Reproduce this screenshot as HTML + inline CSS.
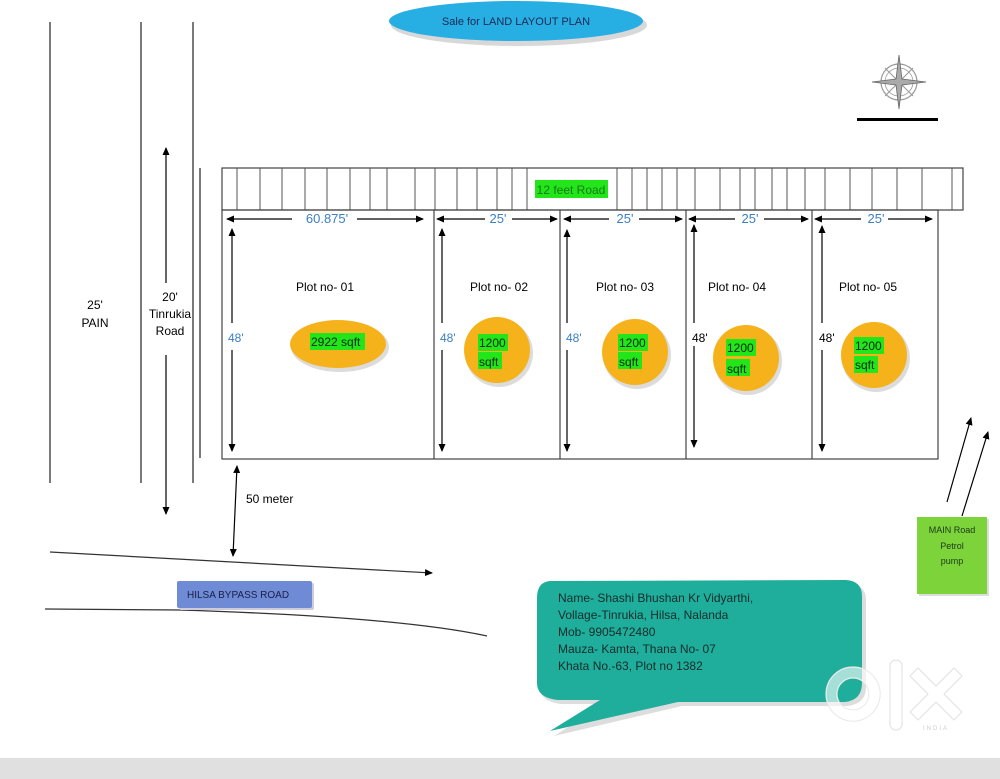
<!DOCTYPE html>
<html><head><meta charset="utf-8"><style>
html,body{margin:0;padding:0;background:#fff;}
svg{display:block;font-family:"Liberation Sans",sans-serif;}
</style></head><body>
<svg width="1000" height="779" viewBox="0 0 1000 779" xmlns="http://www.w3.org/2000/svg">
<defs>
<marker id="ah" markerWidth="8" markerHeight="8" refX="7" refY="4" orient="auto-start-reverse" markerUnits="userSpaceOnUse">
<path d="M0,0.5 L8,4 L0,7.5 z" fill="#000"/></marker>
</defs>
<rect width="1000" height="779" fill="#fff"/>
<!-- title -->
<ellipse cx="519" cy="25" rx="128" ry="21" fill="#d8d8d8"/>
<ellipse cx="516" cy="21" rx="127" ry="20" fill="#27aee3"/>
<text x="516" y="25" font-size="11" text-anchor="middle" fill="#1a2a55">Sale for  LAND LAYOUT PLAN</text>
<!-- compass -->
<g transform="translate(899,82)" stroke="#999" fill="none">
<circle r="18" stroke-width="1.2"/><circle r="14" stroke-width="0.8"/>
<path d="M-14,-14 L14,14 M14,-14 L-14,14" stroke-width="1"/>
<path d="M0,-27 L3,-3 L27,0 L3,3 L0,27 L-3,3 L-27,0 L-3,-3 Z" fill="#aaa" stroke="#666" stroke-width="0.8"/>
</g>
<rect x="857" y="118" width="81" height="3" fill="#000"/>
<!-- left vertical lines -->
<g stroke="#333" stroke-width="1.3">
<line x1="50" y1="22" x2="50" y2="483"/>
<line x1="141" y1="22" x2="141" y2="483"/>
<line x1="193" y1="22" x2="193" y2="483"/>
<line x1="200" y1="168" x2="200" y2="458"/>
</g>
<line x1="166" y1="283" x2="166" y2="148" stroke="#000" stroke-width="1.2" marker-end="url(#ah)"/>
<line x1="166" y1="355" x2="166" y2="514" stroke="#000" stroke-width="1.2" marker-end="url(#ah)"/>
<text x="95" y="309" font-size="12" text-anchor="middle">25'</text>
<text x="95" y="327" font-size="12" text-anchor="middle">PAIN</text>
<text x="170" y="301" font-size="12" text-anchor="middle">20'</text>
<text x="170" y="318" font-size="12" text-anchor="middle">Tinrukia</text>
<text x="170" y="335" font-size="12" text-anchor="middle">Road</text>
<!-- road strip -->
<rect x="222" y="168" width="741" height="42" fill="none" stroke="#444" stroke-width="1.2"/>
<g stroke="#555" stroke-width="1">
<path d="M237,168V210M260,168V210M282,168V210M305,168V210M327,168V210M350,168V210M370,168V210M387,168V210M415,168V210M435,168V210M457,168V210M477,168V210M497,168V210M512,168V210M527,168V210M617,168V210M632,168V210M647,168V210M662,168V210M677,168V210M695,168V210M720,168V210M740,168V210M755,168V210M772,168V210M787,168V210M805,168V210M825,168V210M850,168V210M872,168V210M897,168V210M922,168V210M952,168V210"/>
</g>
<rect x="535" y="180" width="73" height="18" fill="#22e51a"/>
<text x="571" y="194" font-size="12" text-anchor="middle" fill="#1a7a1a">12 feet Road</text>
<!-- plots -->
<rect x="222" y="210" width="716" height="249" fill="none" stroke="#444" stroke-width="1.2"/>
<g stroke="#444" stroke-width="1.2">
<line x1="434" y1="210" x2="434" y2="459"/>
<line x1="560" y1="210" x2="560" y2="459"/>
<line x1="686" y1="210" x2="686" y2="459"/>
<line x1="812" y1="210" x2="812" y2="459"/>
</g>
<!-- horizontal dims -->
<g stroke="#000" stroke-width="1.2">
<line x1="292" y1="219" x2="227" y2="219" marker-end="url(#ah)"/>
<line x1="357" y1="219" x2="423" y2="219" marker-end="url(#ah)"/>
<line x1="485" y1="219" x2="437" y2="219" marker-end="url(#ah)"/>
<line x1="512" y1="219" x2="557" y2="219" marker-end="url(#ah)"/>
<line x1="609" y1="219" x2="564" y2="219" marker-end="url(#ah)"/>
<line x1="639" y1="219" x2="682" y2="219" marker-end="url(#ah)"/>
<line x1="735" y1="219" x2="689" y2="219" marker-end="url(#ah)"/>
<line x1="764" y1="219" x2="808" y2="219" marker-end="url(#ah)"/>
<line x1="861" y1="219" x2="815" y2="219" marker-end="url(#ah)"/>
<line x1="888" y1="219" x2="932" y2="219" marker-end="url(#ah)"/>
</g>
<g font-size="13" fill="#3b7fc4" text-anchor="middle">
<text x="327" y="223">60.875'</text>
<text x="498" y="223">25'</text>
<text x="625" y="223">25'</text>
<text x="750" y="223">25'</text>
<text x="876" y="223">25'</text>
</g>
<!-- vertical dims -->
<g stroke="#000" stroke-width="1.2">
<line x1="232" y1="323" x2="232" y2="229" marker-end="url(#ah)"/>
<line x1="232" y1="350" x2="232" y2="451" marker-end="url(#ah)"/>
<line x1="442" y1="323" x2="442" y2="229" marker-end="url(#ah)"/>
<line x1="442" y1="350" x2="442" y2="451" marker-end="url(#ah)"/>
<line x1="567" y1="323" x2="567" y2="230" marker-end="url(#ah)"/>
<line x1="567" y1="350" x2="567" y2="451" marker-end="url(#ah)"/>
<line x1="694" y1="323" x2="694" y2="225" marker-end="url(#ah)"/>
<line x1="694" y1="346" x2="694" y2="447" marker-end="url(#ah)"/>
<line x1="822" y1="323" x2="822" y2="226" marker-end="url(#ah)"/>
<line x1="822" y1="350" x2="822" y2="451" marker-end="url(#ah)"/>
</g>
<g font-size="12">
<text x="228" y="342" fill="#3b7fc4">48'</text>
<text x="440" y="342" fill="#3b7fc4">48'</text>
<text x="566" y="342" fill="#3b7fc4">48'</text>
<text x="692" y="342" fill="#000">48'</text>
<text x="819" y="342" fill="#000">48'</text>
</g>
<g font-size="12" text-anchor="middle">
<text x="325" y="291">Plot no- 01</text>
<text x="499" y="291">Plot no- 02</text>
<text x="625" y="291">Plot no- 03</text>
<text x="737" y="291">Plot no- 04</text>
<text x="868" y="291">Plot no- 05</text>
</g>
<!-- ovals -->
<g fill="#dcdcdc">
<ellipse cx="340" cy="347" rx="49" ry="25"/>
<circle cx="499" cy="353" r="34"/>
<circle cx="637" cy="355" r="34"/>
<circle cx="748" cy="361" r="34"/>
<circle cx="876" cy="358" r="34"/>
</g>
<g fill="#f5b21a">
<ellipse cx="338" cy="344" rx="48" ry="24"/>
<circle cx="497" cy="350" r="33"/>
<circle cx="635" cy="352" r="33"/>
<circle cx="746" cy="358" r="33"/>
<circle cx="874" cy="355" r="33"/>
</g>
<g fill="#22e51a">
<rect x="310" y="333" width="55" height="17"/>
<rect x="478" y="334" width="30" height="17"/><rect x="478" y="352" width="24" height="17"/>
<rect x="618" y="334" width="30" height="17"/><rect x="618" y="352" width="24" height="17"/>
<rect x="726" y="339" width="30" height="17"/><rect x="726" y="359" width="24" height="17"/>
<rect x="854" y="337" width="30" height="17"/><rect x="854" y="356" width="24" height="17"/>
</g>
<g font-size="12" fill="#0a2a0a">
<text x="311" y="346">2922 sqft</text>
<text x="479" y="347">1200</text><text x="479" y="366">sqft</text>
<text x="619" y="347">1200</text><text x="619" y="366">sqft</text>
<text x="727" y="352">1200</text><text x="727" y="373">sqft</text>
<text x="855" y="350">1200</text><text x="855" y="369">sqft</text>
</g>
<!-- 50 meter -->
<line x1="237" y1="466" x2="233" y2="556" stroke="#000" stroke-width="1.2" marker-start="url(#ah)" marker-end="url(#ah)"/>
<text x="246" y="503" font-size="12">50 meter</text>
<!-- bypass -->
<line x1="50" y1="552" x2="432" y2="573" stroke="#333" stroke-width="1.2" marker-end="url(#ah)"/>
<path d="M45,609 L180,610 Q400,617 487,636" fill="none" stroke="#333" stroke-width="1.3"/>
<rect x="179" y="583" width="135" height="27" fill="#ccd" rx="2"/>
<rect x="177" y="581" width="135" height="27" fill="#6f8bd6" rx="2"/>
<text x="187" y="598" font-size="10" fill="#1a1f45">HILSA BYPASS ROAD</text>
<!-- main road -->
<line x1="947" y1="502" x2="971" y2="418" stroke="#000" stroke-width="1.2" marker-end="url(#ah)"/>
<line x1="962" y1="516" x2="988" y2="432" stroke="#000" stroke-width="1.2" marker-end="url(#ah)"/>
<rect x="919" y="519" width="70" height="77" fill="#ddd"/>
<rect x="917" y="517" width="70" height="77" fill="#7dd33a"/>
<g font-size="9" fill="#1a3a1a" text-anchor="middle">
<text x="952" y="533">MAIN Road</text><text x="952" y="549">Petrol</text><text x="952" y="564">pump</text>
</g>
<!-- bubble -->
<path d="M550,583 Q538,584 538,600 L538,685 Q538,700 560,702 L602,702 L552,734 L680,704 L845,704 Q864,702 864,685 L864,598 Q864,583 848,582 Z" fill="#ddd" transform="translate(2,2)"/>
<path d="M550,581 Q537,582 537,598 L537,683 Q537,698 558,700 L600,700 L550,731 L678,702 L845,702 Q862,700 862,683 L862,596 Q862,581 846,580 Z" fill="#1fae9b"/>
<g font-size="12" fill="#152c2c">
<text x="558" y="602">Name- Shashi Bhushan Kr Vidyarthi,</text>
<text x="558" y="619">Vollage-Tinrukia, Hilsa, Nalanda</text>
<text x="558" y="636">Mob- 9905472480</text>
<text x="558" y="653">Mauza- Kamta, Thana No- 07</text>
<text x="558" y="670">Khata No.-63, Plot no 1382</text>
</g>
<!-- olx watermark -->
<g fill="none" stroke="#e4e4e4" stroke-width="1.2">
<circle cx="853" cy="694" r="27"/><circle cx="853" cy="694" r="16"/>
<rect x="890" y="660" width="12" height="70" rx="6"/>
<path d="M918,668 L936,686 L954,668 L962,676 L944,694 L962,712 L954,720 L936,702 L918,720 L910,712 L928,694 L910,676 Z" stroke-linejoin="round"/>
</g>
<g fill="#fff" fill-opacity="0.6">
<path d="M853,667 a27,27 0 1,0 0.1,0 z M853,678 a16,16 0 1,1 -0.1,0 z" fill-rule="evenodd"/>
</g>
<text x="936" y="730" font-size="6" fill="#ccc" text-anchor="middle" letter-spacing="2">INDIA</text>
<!-- bottom bar -->
<rect x="0" y="758" width="1000" height="21" fill="#e0e0e0"/>
</svg>
</body></html>
